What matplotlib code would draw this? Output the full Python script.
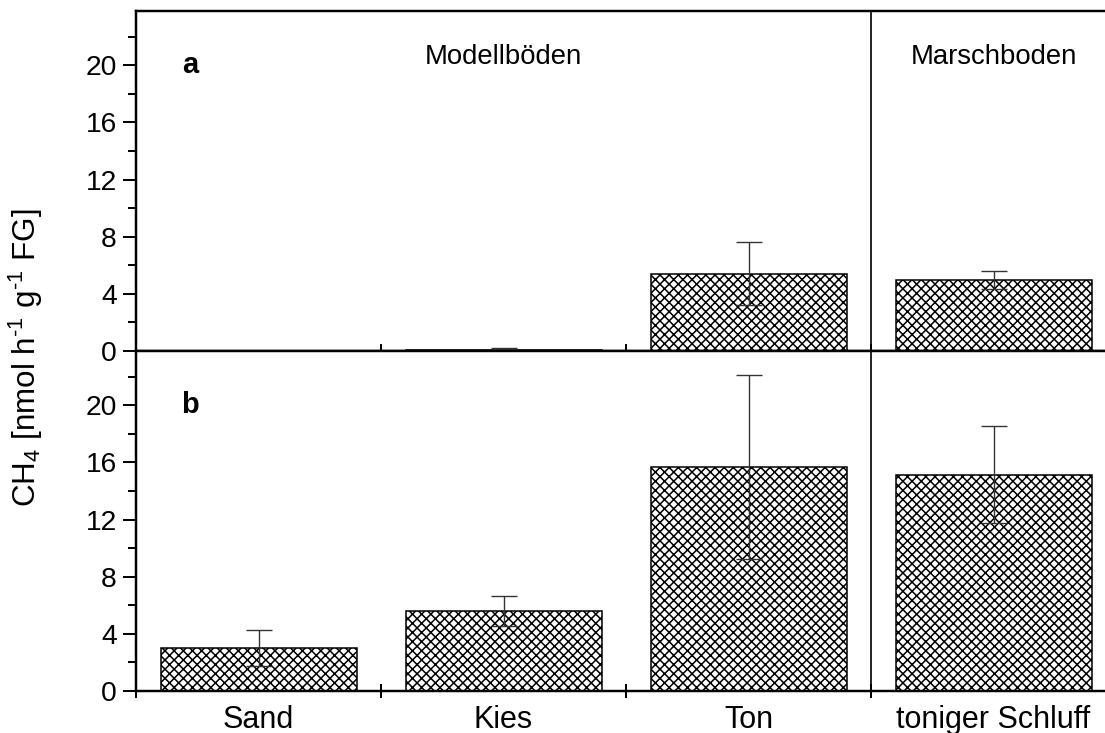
import numpy as np
import matplotlib
matplotlib.use("Agg")
import matplotlib.pyplot as plt
from matplotlib.ticker import MultipleLocator, FixedLocator, NullFormatter

plt.rcParams['font.family'] = ['Liberation Sans', 'DejaVu Sans']
plt.rcParams['mathtext.fontset'] = 'custom'
plt.rcParams['mathtext.rm'] = 'Liberation Sans'
plt.rcParams['mathtext.it'] = 'Liberation Sans:italic'
plt.rcParams['mathtext.bf'] = 'Liberation Sans:bold'
plt.rcParams['hatch.linewidth'] = 1.0
plt.rcParams['hatch.color'] = 'black'

# Soil types and methane production rates (mean, standard deviation)
categories = ['Sand', 'Kies', 'Ton', 'toniger Schluff']
rate_a = [0.0, 0.08, 5.4, 5.0]
err_a = [0.0, 0.1, 2.2, 0.63]
rate_b = [3.0, 5.57, 15.67, 15.15]
err_b = [1.25, 1.05, 6.46, 3.37]
panel_labels = ['a', 'b']
group_labels = ['Modellböden', 'Marschboden']
y_ticks = [0, 4, 8, 12, 16, 20]

DPI = 110
W, H = 1105, 733
fig = plt.figure(figsize=(W / DPI, H / DPI), dpi=DPI)

left_px, right_px = 136, 1116
top_px, mid_px, bot_px = 11, 351, 691
fx0 = left_px / W
fw = (right_px - left_px) / W
ax_a = fig.add_axes([fx0, 1 - mid_px / H, fw, (mid_px - top_px) / H])
ax_b = fig.add_axes([fx0, 1 - bot_px / H, fw, (bot_px - mid_px) / H])

x = np.arange(len(categories))
spine_lw = 1.6

for ax, vals, errs, lab in [(ax_a, rate_a, err_a, panel_labels[0]),
                            (ax_b, rate_b, err_b, panel_labels[1])]:
    ax.bar(x, vals, width=0.8, color='white', edgecolor='black',
           linewidth=1.0, hatch='xxxx', zorder=2)
    mask = np.array(errs) > 0
    ax.errorbar(x[mask], np.array(vals)[mask], yerr=np.array(errs)[mask],
                fmt='none', ecolor='#333333', elinewidth=0.9,
                capsize=8.2, capthick=0.9, zorder=3)
    ax.axvline(2.5, color='black', linewidth=1.1, zorder=1)
    ax.set_xlim(-0.5, 3.5)
    ax.set_ylim(0, 23.8)
    ax.yaxis.set_major_locator(FixedLocator(y_ticks))
    ax.yaxis.set_minor_locator(MultipleLocator(2))
    ax.tick_params(axis='y', which='major', direction='out', length=8.5,
                   width=1.3, labelsize=18.5, pad=4)
    ax.tick_params(axis='y', which='minor', direction='out', length=5.2,
                   width=1.3)
    ax.xaxis.set_major_locator(FixedLocator([-0.5, 0.5, 1.5, 2.5]))
    ax.xaxis.set_major_formatter(NullFormatter())
    ax.xaxis.set_minor_locator(FixedLocator(x))
    ax.tick_params(axis='x', which='major', direction='inout', length=9.8,
                   width=1.3)
    ax.tick_params(axis='x', which='minor', length=0, labelsize=20, pad=9)
    for s in ['left', 'top', 'bottom']:
        ax.spines[s].set_linewidth(spine_lw)
    ax.spines['right'].set_visible(False)
    ax.text(-0.28, 20, lab, fontsize=19, fontweight='bold',
            ha='center', va='center')

ax_a.xaxis.set_minor_formatter(NullFormatter())
ax_b.set_xticks(x, categories, minor=True)

ax_a.text(1.0, 20.6, group_labels[0], fontsize=18, ha='center', va='center')
ax_a.text(3.0, 20.6, group_labels[1], fontsize=18, ha='center', va='center')

fig.text(26 / W, 1 - 358 / H,
         r'CH$_4$ [nmol h$^{\text{-1}}$ g$^{\text{-1}}$ FG]',
         rotation=90, fontsize=20.5, ha='center', va='center')

fig.savefig('out.png', dpi=DPI)
